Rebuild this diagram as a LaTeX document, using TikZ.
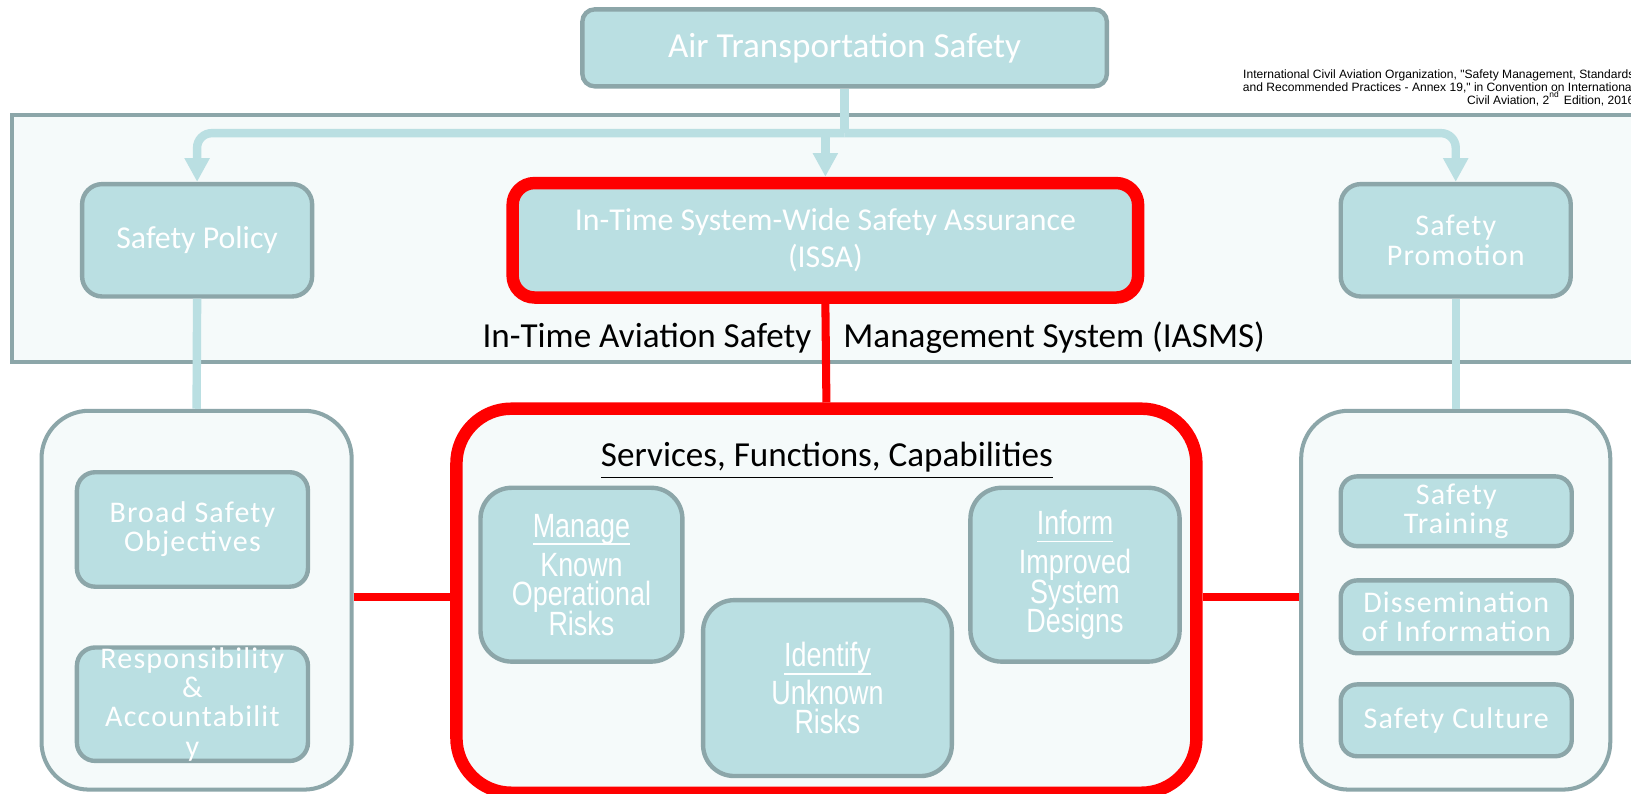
\documentclass[tikz,border=0pt]{standalone}
\usepackage{fontspec}
\setmainfont{Carlito}
\newfontfamily\narrowfont[FakeStretch=0.8]{Liberation Sans}
\newfontfamily\widefont[LetterSpace=4]{Carlito}
\newfontfamily\citefont{Liberation Sans}
\usetikzlibrary{arrows.meta}
\definecolor{boxfill}{HTML}{BADFE2}
\definecolor{boxline}{HTML}{8CA6A9}
\definecolor{panel}{HTML}{F5FAFA}
\definecolor{alert}{HTML}{FF0000}
\newcommand{\uword}[1]{\underline{\raisebox{0pt}[\height][0.5pt]{#1}}}
\newcommand{\tightlines}{\lineskiplimit=-5pt\relax}
\begin{document}
\begin{tikzpicture}[x=0.01cm, y=-0.01cm]
\tikzstyle{every node}+=[inner sep=0pt, align=center]
\tikzstyle{block}=[draw=boxline, line width=1.2pt, fill=boxfill, text=white, rounded corners=5pt]
\tikzstyle{group}=[draw=boxline, line width=1.1pt, fill=panel, rounded corners=13pt]
\tikzstyle{hot}=[draw=alert, line width=3.4pt]
\tikzstyle{feed}=[draw=boxfill, line width=2.3pt]
\tikzstyle{tip}=[-{Triangle[width=6.5pt,length=6.5pt]}]
\tikzstyle{link}=[draw=alert, line width=2.2pt]
\tikzstyle{large}=[font=\fontsize{9.6}{10}\selectfont]
\tikzstyle{medium}=[font=\fontsize{8.7}{10}\selectfont]
\tikzstyle{spaced}=[font=\widefont\fontsize{8.2}{8}\selectfont]
\tikzstyle{narrow}=[font=\narrowfont\fontsize{9.2}{8}\selectfont\tightlines]
\clip (0,0) rectangle (1568,763);
\fill[white] (0,0) rectangle (1568,763);
% IASMS frame
\draw[draw=boxline, line width=1.1pt, fill=panel] (12,111) rectangle (1620,348);
\node[large] (iasms) at (840,325) {In-Time Aviation Safety\hspace{8.8pt}Management System (IASMS)};
\node[anchor=north east, align=right, font=\citefont\fontsize{3.3}{3.6}\selectfont] (cite) at (1572,66)
  {International Civil Aviation Organization, \textquotedbl Safety Management, Standards\\
   and Recommended Practices - Annex 19,\textquotedbl{} in Convention on International\\
   Civil Aviation, 2\smash{\textsuperscript{nd}} Edition, 2016};
\node[block, large, minimum width=5.04cm, minimum height=0.74cm, rounded corners=3.4pt] (ats) at (812,46) {Air Transportation Safety};
\node[block, medium, minimum width=2.21cm, minimum height=1.08cm, rounded corners=5.5pt] (pol) at (189.5,231) {Safety Policy};
\node[block, hot, medium, minimum width=6.01cm, minimum height=1.10cm, rounded corners=6pt] (issa) at (793.5,231) {In-Time System-Wide Safety Assurance\\(ISSA)};
\node[block, spaced, minimum width=2.21cm, minimum height=1.08cm, rounded corners=5.5pt] (prom) at (1399.5,231) {Safety\\Promotion};
% lower row
\node[group, minimum width=2.98cm, minimum height=3.64cm] (left) at (189,577) {};
\node[block, spaced, minimum width=2.22cm, minimum height=1.10cm] (bso) at (185,509) {Broad Safety\\Objectives};
\node[block, spaced, minimum width=2.22cm, minimum height=1.08cm] (resp) at (185,677) {Responsibility\\\&\\Accountabilit\\y};
\node[group, hot, minimum width=7.11cm, minimum height=3.69cm, rounded corners=15pt] (svc) at (794.5,577.5) {};
\node[large] (title) at (795,443) {\underline{Services, Functions, Capabilities}};
\node[block, narrow, minimum width=1.94cm, minimum height=1.67cm, rounded corners=8.5pt] (manage) at (559,552.5) {\uword{Manage}\\[2.8pt]Known\\Operational\\Risks};
\node[block, narrow, minimum width=2.39cm, minimum height=1.69cm, rounded corners=8.5pt] (identify) at (795.5,661.5) {\uword{Identify}\\[2.2pt]Unknown\\Risks};
\node[block, narrow, minimum width=2.01cm, minimum height=1.67cm, rounded corners=8.5pt] (inform) at (1033.5,552.5) {\uword{Inform}\\[2.8pt]Improved\\System\\Designs};
\node[group, minimum width=2.97cm, minimum height=3.64cm] (right) at (1399.5,577) {};
\node[block, spaced, minimum width=2.22cm, minimum height=0.67cm, rounded corners=4.5pt] (train) at (1400,491.5) {Safety\\Training};
\node[block, spaced, minimum width=2.22cm, minimum height=0.70cm, rounded corners=4.5pt] (dissem) at (1400,593) {Dissemination\\of Information};
\node[block, spaced, minimum width=2.22cm, minimum height=0.69cm, rounded corners=4.5pt] (culture) at (1400,692.5) {Safety Culture};
% connectors
\coordinate (bus) at (0,128);
\draw[feed] (ats.south) -- (ats.south |- bus);
\draw[feed, tip, rounded corners=4pt] (ats.south |- bus) -| (pol.north);
\draw[feed, tip, rounded corners=4pt] (ats.south |- bus) -| (prom.north);
\draw[feed, tip] (issa.north |- bus) -- (issa.north);
\draw[feed] (pol.south) -- (left.north);
\draw[feed] (prom.south) -- (right.north);
\draw[link] (issa.south) -- (svc.north);
\draw[link] (left.east |- 0,574) -- (svc.west |- 0,574);
\draw[link] (svc.east |- 0,574) -- (right.west |- 0,574);
\end{tikzpicture}
\end{document}
